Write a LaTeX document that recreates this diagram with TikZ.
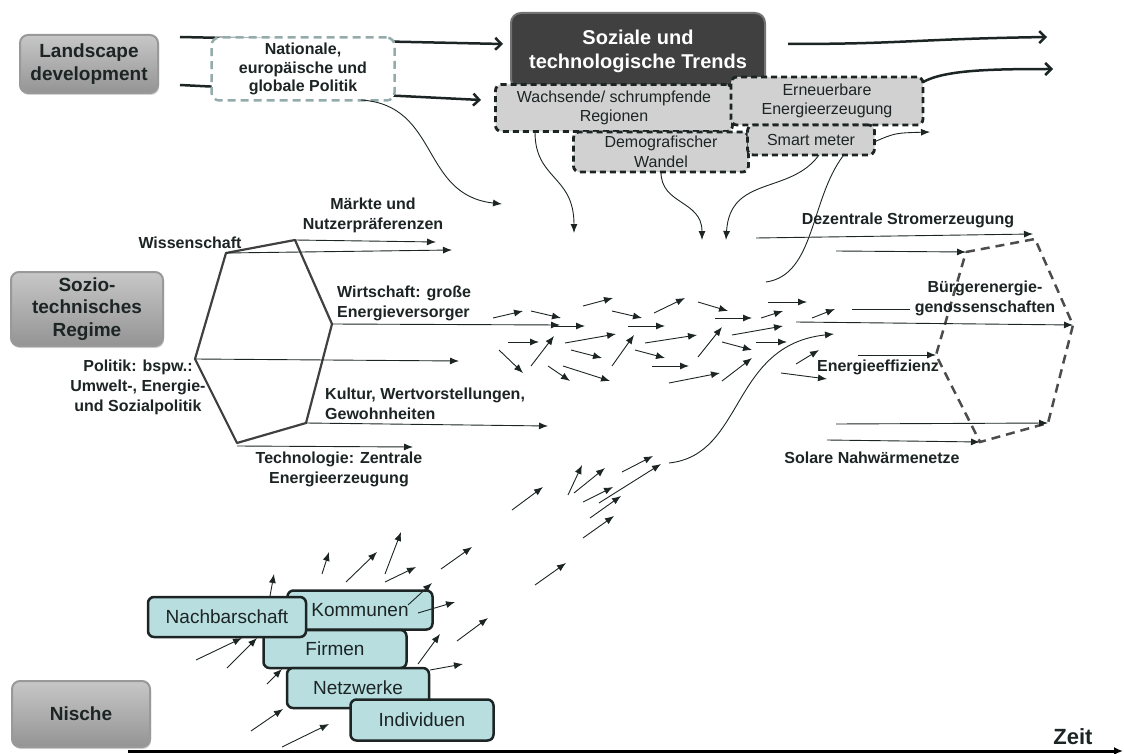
\documentclass[tikz,border=0pt]{standalone}
\usepackage{fontspec}
\setmainfont{Liberation Sans}
\usetikzlibrary{arrows.meta,shadows}
\definecolor{myink}{rgb}{0.11,0.14,0.14}
\definecolor{myteal}{rgb}{0.72,0.87,0.88}
\definecolor{mydark}{rgb}{0.25,0.25,0.25}
\definecolor{mypale}{rgb}{0.82,0.82,0.82}
\definecolor{mydash}{rgb}{0.58,0.67,0.67}
\newcommand{\THICKPT}{2.5pt}
\newcommand{\THINPT}{0.9pt}
\tikzset{
	levelbox/.style={rounded corners=8pt, top color=black!22, bottom color=black!42, draw=black!40, line width=2pt, drop shadow={opacity=0.35, shadow xshift=1pt, shadow yshift=-2pt}, align=center, inner sep=0pt, text=myink, font=\bfseries\fontsize{19}{22.5}\selectfont},
	policybox/.style={rounded corners=8pt, fill=white, draw=mydash, line width=\THICKPT, dash pattern=on 8pt off 5pt, align=center, inner sep=0pt, text=myink, font=\bfseries\fontsize{16}{18.5}\selectfont},
	trendbox/.style={rounded corners=10pt, fill=mydark, draw=black!55, line width=2pt, align=center, inner sep=0pt, text=white, font=\bfseries\fontsize{20}{24}\selectfont},
	trendpart/.style={rounded corners=6pt, fill=mypale, draw=myink, line width=2.8pt, dash pattern=on 6pt off 4pt, align=center, inner sep=0pt, text=myink, font=\fontsize{16}{19.5}\selectfont},
	nichebox/.style={rounded corners=6pt, fill=myteal, draw=myink, line width=2.5pt, align=center, inner sep=0pt, text=myink, font=\fontsize{19}{22}\selectfont},
	lbl/.style={inner sep=0pt, text=myink, font=\bfseries\fontsize{16}{20}\selectfont},
	arr/.style={-{Latex[length=9pt,width=7pt]}, color=myink, line width=\THINPT},
	bigarr/.style={-{Straight Barb[length=6pt,width=12pt]}, color=myink, line width=\THICKPT},
}

\begin{document}
\begin{tikzpicture}[x=1pt,y=-1pt]
	\useasboundingbox (0,0) rectangle (1124,754);

	%% landscape level
	\coordinate (ls1) at (180,37);
	\coordinate (ls1e) at (503,44);
	\coordinate (ls2) at (180,85);
	\coordinate (ls2e) at (481,100);
	\coordinate (tr1) at (788,44);
	\coordinate (tr1e) at (1047,37);
	\coordinate (tr2) at (923,82);
	\coordinate (tr2e) at (1053,69);

	\node[levelbox, minimum width=138pt, minimum height=58pt] (landscape) at (89,64) {Landscape\\development};
	\draw[bigarr] (ls1) -- (ls1e);
	\draw[bigarr] (ls2) -- (ls2e);
	\node[policybox, minimum width=183pt, minimum height=63pt] (politik) at (303,69) {Nationale,\\europäische und\\globale Politik};

	\node[trendbox, minimum width=254pt, minimum height=76pt] (trends) at (638,51) {Soziale und\\technologische Trends};
	\node[trendpart, minimum width=237pt, minimum height=47pt] (wachsende) at (614,108) {Wachsende/ schrumpfende\\Regionen};
	\node[trendpart, minimum width=175pt, minimum height=40pt] (demograf) at (661,152) {Demografischer\\Wandel};
	\node[trendpart, minimum width=192pt, minimum height=48pt] (erneuerbar) at (827,101) {Erneuerbare\\Energieerzeugung};
	\node[trendpart, minimum width=127pt, minimum height=30pt] (smart) at (811,140) {Smart meter};
	\draw[bigarr] (tr1) .. controls (905,44) and (915,39) .. (tr1e);
	\draw[bigarr] (tr2) .. controls (945,70) and (990,69) .. (tr2e);

	%% influences from the landscape
	\coordinate (c1s) at (361,100);
	\coordinate (c1e) at (502,204);
	\coordinate (c2s) at (535,132);
	\coordinate (c2e) at (574,233);
	\coordinate (c3s) at (661,172);
	\coordinate (c3e) at (702,240);
	\coordinate (c4s) at (819,155);
	\coordinate (c4e) at (726,240);
	\coordinate (c5s) at (843,156);
	\coordinate (c5e) at (766,282);
	\coordinate (c6s) at (874,142);
	\coordinate (c6e) at (930,132);
	\draw[arr] (c1s) .. controls (440,105) and (420,195) .. (c1e);
	\draw[arr] (c2s) .. controls (535,180) and (574,175) .. (c2e);
	\draw[arr] (c3s) .. controls (661,205) and (702,200) .. (c3e);
	\draw[arr] (c4s) .. controls (790,195) and (730,175) .. (c4e);
	\draw[-,color=myink,line width=\THINPT] (c5s) .. controls (810,200) and (815,275) .. (c5e);
	\draw[arr] (c6s) .. controls (895,133) .. (c6e);

	%% regime hexagon
	\node[levelbox, minimum width=152pt, minimum height=74pt] (regime) at (87,309) {Sozio-\\technisches\\Regime};
	\coordinate (r1) at (226,253);
	\coordinate (r2) at (295,240);
	\coordinate (r3) at (332,324);
	\coordinate (r4) at (306,423);
	\coordinate (r5) at (237,443);
	\coordinate (r6) at (195,359);
	\draw[color=black!75,line width=2.2pt,line join=round] (r1) -- (r2) -- (r3) -- (r4) -- (r5) -- (r6) -- cycle;
	\draw[arr] (r2) -- (436,242);
	\draw[arr] (r1) -- (452,250);
	\draw[arr] (r3) -- (560,325);
	\draw[arr] (r6) -- (459,361);
	\draw[arr] (r4) -- (548,426);
	\draw[arr] (237,446) -- (413,447);

	\node[lbl] (wiss) at (190,243) {Wissenschaft};
	\node[lbl, align=center] (maerkte) at (373,215) {Märkte und\\Nutzerpräferenzen};
	\node[lbl, align=left, anchor=west] (wirtschaft) at (337,303) {Wirtschaft: große\\Energieversorger};
	\node[lbl, align=center] (politiklbl) at (138,387) {Politik: bspw.:\\Umwelt-, Energie-\\und Sozialpolitik};
	\node[lbl, align=left, anchor=west] (kultur) at (325,404) {Kultur, Wertvorstellungen,\\Gewohnheiten};
	\node[lbl, align=center] (technik) at (339,469) {Technologie: Zentrale\\Energieerzeugung};

	%% swarm in the regime
	\draw[arr] (493,318) -- (523,311);
	\draw[arr] (531,311) -- (561,318);
	\draw[arr] (553,326) -- (585,326);
	\draw[arr] (508,342) -- (539,342);
	\draw[arr] (499,350) -- (523,373);
	\draw[arr] (531,366) -- (554,336);
	\draw[arr] (565,343) -- (616,334);
	\draw[arr] (571,350) -- (602,358);
	\draw[arr] (548,366) -- (570,381);
	\draw[arr] (563,366) -- (610,381);
	\draw[arr] (583,306) -- (613,298);
	\draw[arr] (612,311) -- (642,318);
	\draw[arr] (628,326) -- (665,326);
	\draw[arr] (612,366) -- (634,335);
	\draw[arr] (645,343) -- (697,335);
	\draw[arr] (635,350) -- (665,358);
	\draw[arr] (652,366) -- (689,366);
	\draw[arr] (669,383) -- (720,373);
	\draw[arr] (654,313) -- (685,298);
	\draw[arr] (698,302) -- (728,311);
	\draw[arr] (715,318) -- (752,318);
	\draw[arr] (698,357) -- (722,327);
	\draw[arr] (732,335) -- (783,326);
	\draw[arr] (722,342) -- (752,350);
	\draw[arr] (756,342) -- (787,342);
	\draw[arr] (722,381) -- (752,358);
	\draw[arr] (768,302) -- (807,302);
	\draw[arr] (761,318) -- (783,311);
	\draw[arr] (812,318) -- (835,309);
	\draw[arr] (796,364) -- (819,350);
	\draw[arr] (781,373) -- (827,379);

	%% new regime
	\coordinate (n1) at (966,252);
	\coordinate (n2) at (1035,239);
	\coordinate (n3) at (1073,325);
	\coordinate (n4) at (1048,423);
	\coordinate (n5) at (980,442);
	\coordinate (n6) at (936,355);
	\draw[color=black!70,line width=2.5pt,dash pattern=on 9pt off 6pt] (n1) -- (n2) -- (n3) -- (n4) -- (n5) -- (n6) -- cycle;
	\draw[arr] (756,238) -- (1033,234);
	\draw[arr] (836,251) -- (n1);
	\draw[-,color=myink,line width=\THINPT] (852,309) -- (910,309);
	\draw[arr] (796,322) -- (n3);
	\draw[arr] (858,355) -- (n6);
	\draw[arr] (836,424) -- (n4);
	\draw[arr] (827,440) -- (n5);
	\coordinate (c7s) at (669,463);
	\coordinate (c7e) at (834,334);
	\draw[arr] (c7s) .. controls (745,455) and (730,345) .. (c7e);

	\node[lbl] (dezentral) at (908,220) {Dezentrale Stromerzeugung};
	\node[lbl, align=center] (buerger) at (985,298) {Bürgerenergie-\\genossenschaften};
	\node[lbl] (effizienz) at (878,367) {Energieeffizienz};
	\node[lbl] (solar) at (872,458) {Solare Nahwärmenetze};

	%% niche level
	\node[levelbox, minimum width=138pt, minimum height=66pt] (nische) at (81,714) {Nische};
	\node[nichebox, minimum width=145pt, minimum height=39pt] (kommunen) at (360,610) {Kommunen};
	\node[nichebox, minimum width=143pt, minimum height=38pt] (firmen) at (335,649) {Firmen};
	\node[nichebox, minimum width=142pt, minimum height=40pt] (netzwerke) at (358,688) {Netzwerke};
	\node[nichebox, minimum width=143pt, minimum height=41pt] (individuen) at (422,720) {Individuen};
	\node[nichebox, minimum width=158pt, minimum height=40pt] (nachbar) at (227,617) {Nachbarschaft};

	\draw[arr] (270,596) -- (274,574);
	\draw[arr] (322,574) -- (329,552);
	\draw[arr] (346,582) -- (377,552);
	\draw[arr] (385,574) -- (401,532);
	\draw[arr] (385,582) -- (416,567);
	\draw[arr] (441,569) -- (472,547);
	\draw[arr] (408,605) -- (432,583);
	\draw[arr] (418,613) -- (455,602);
	\draw[arr] (457,641) -- (488,618);
	\draw[arr] (418,664) -- (440,634);
	\draw[arr] (430,670) -- (463,664);
	\draw[arr] (196,660) -- (242,638);
	\draw[arr] (227,668) -- (257,638);
	\draw[arr] (267,684) -- (282,669);
	\draw[arr] (251,731) -- (283,709);
	\draw[arr] (282,747) -- (329,724);
	\draw[arr] (512,510) -- (543,487);
	\draw[arr] (535,585) -- (566,563);
	\draw[arr] (568,495) -- (582,465);
	\draw[arr] (574,493) -- (605,468);
	\draw[arr] (583,502) -- (613,487);
	\draw[arr] (599,503) -- (661,464);
	\draw[arr] (590,518) -- (621,496);
	\draw[arr] (583,538) -- (614,516);
	\draw[arr] (622,472) -- (653,456);

	%% time axis
	\coordinate (t0) at (128,751);
	\coordinate (t1) at (1123,751);
	\draw[-{Latex[length=9pt,width=8pt]},color=black,line width=3pt] (t0) -- (t1);
	\node[lbl, font=\bfseries\fontsize{22}{24}\selectfont, anchor=base] (zeit) at (1073,744) {Zeit};

\end{tikzpicture}
\end{document}
